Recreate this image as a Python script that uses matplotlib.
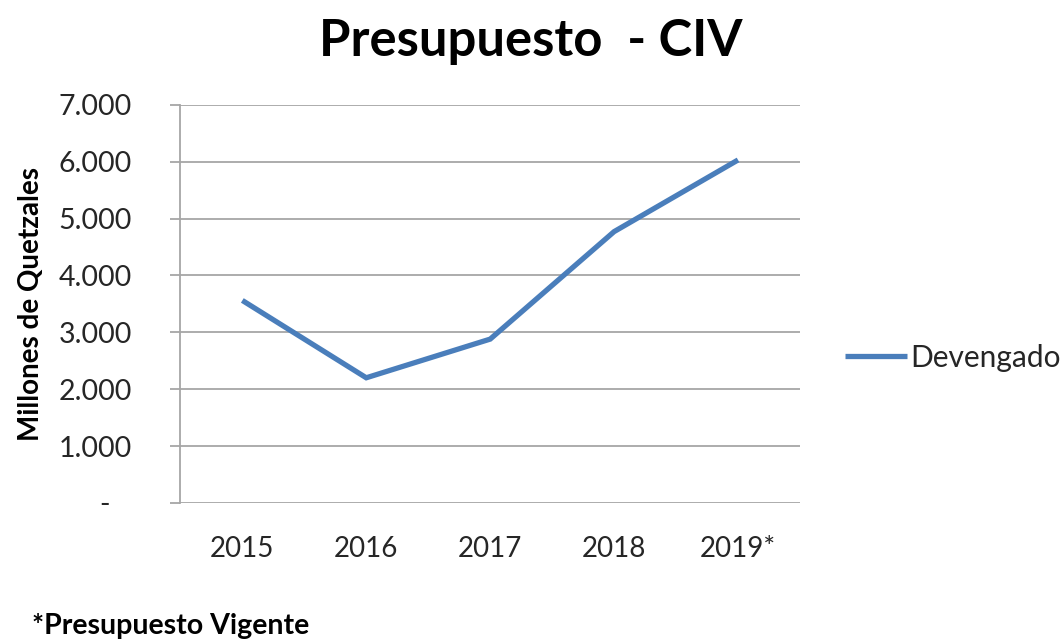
import matplotlib
matplotlib.use('Agg')
import matplotlib.pyplot as plt
from matplotlib.ticker import FuncFormatter

# data (millions of quetzales)
years = ["2015", "2016", "2017", "2018", "2019*"]
devengado = [3560, 2200, 2880, 4770, 6030]
y_ticks = [0, 1000, 2000, 3000, 4000, 5000, 6000, 7000]

plt.rcParams['font.family'] = ['Lato', 'DejaVu Sans']
grid_col = '#a6a6a6'
text_col = '#262626'

fig = plt.figure(figsize=(10.61, 6.39), dpi=100)
ax = fig.add_axes([0.170, 0.213, 0.584, 0.623])

x = list(range(len(years)))
ax.plot(x, devengado, color='#4a7ebb', lw=3.8, solid_capstyle='butt',
        solid_joinstyle='miter', label='Devengado')

ax.set_xlim(-0.5, len(years) - 0.5)
ax.set_ylim(0, 7000)
ax.set_xticks(x)
ax.set_xticklabels(years)
ax.set_yticks(y_ticks)

def fmt(v, pos):
    if v == 0:
        return "-   "
    return f"{int(v):,}".replace(",", ".")
ax.yaxis.set_major_formatter(FuncFormatter(fmt))

ax.grid(axis='y', color=grid_col, lw=1.3)
ax.set_axisbelow(True)
for s in ['top', 'right', 'bottom']:
    ax.spines[s].set_visible(False)
ax.spines['left'].set_color(grid_col)
ax.spines['left'].set_linewidth(1.3)

ax.tick_params(axis='y', length=7, width=1.3, color=grid_col, pad=28,
               labelsize=20.5, labelcolor=text_col)
ax.tick_params(axis='x', length=0, pad=24, labelsize=20, labelcolor=text_col)

ax.set_ylabel("Millones de Quetzales", fontsize=20, fontweight='bold',
              labelpad=10)

fig.suptitle("Presupuesto  - CIV", x=0.5, y=0.972, fontsize=36.5,
             fontweight='bold')

fig.legend(loc='center left', bbox_to_anchor=(0.796, 0.44), frameon=False,
           fontsize=21.5, handlelength=2.1, handletextpad=0.1,
           borderpad=0, borderaxespad=0, labelcolor=text_col)

fig.text(0.03, 0.008, "*Presupuesto Vigente", fontsize=20.5, fontweight='bold')

fig.savefig('out.png', dpi=100)
